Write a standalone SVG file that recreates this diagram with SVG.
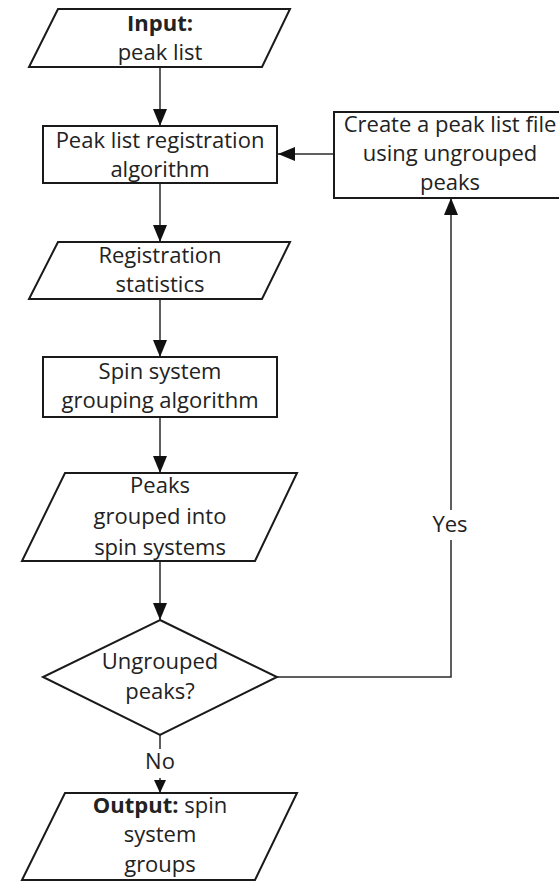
<svg xmlns="http://www.w3.org/2000/svg" width="559" height="881" viewBox="0 0 559 881">
  <style>
    .shape { fill: #ffffff; stroke: #1a1a1a; stroke-width: 2; }
    .edge { fill: none; stroke: #2a2a2a; stroke-width: 1.5; }
    .label { font-family: "Open Sans", "Liberation Sans", sans-serif; font-size: 22px; fill: #222222; text-anchor: middle; }
    .bold { font-weight: bold; }
    .tag { fill: #ffffff; stroke: none; }
  </style>
  <defs>
    <marker id="arrow" markerUnits="userSpaceOnUse" markerWidth="17" markerHeight="14" refX="17" refY="7" orient="auto">
      <path d="M0,0 L17,7 L0,14 z" fill="#111111"/>
    </marker>
    <marker id="arrow-small" markerUnits="userSpaceOnUse" markerWidth="13" markerHeight="12" refX="13" refY="6" orient="auto">
      <path d="M0,0 L13,6 L0,12 z" fill="#111111"/>
    </marker>
  </defs>

  <rect width="559" height="881" fill="#ffffff"/>

  <!-- connectors -->
  <g id="connectors">
    <path class="edge" d="M160,67 V126" marker-end="url(#arrow)"/>
    <path class="edge" d="M160,183 V242" marker-end="url(#arrow)"/>
    <path class="edge" d="M160,299 V357" marker-end="url(#arrow)"/>
    <path class="edge" d="M160,417 V473" marker-end="url(#arrow)"/>
    <path class="edge" d="M160,561 V620" marker-end="url(#arrow)"/>
    <path class="edge" d="M160,735 V793" marker-end="url(#arrow-small)"/>
    <path class="edge" d="M277,677 H451 V198" marker-end="url(#arrow)"/>
    <path class="edge" d="M334,154 H278" marker-end="url(#arrow)"/>
    <!-- branch labels -->
    <rect class="tag" x="430" y="510" width="40" height="30"/>
    <text class="label" x="450" y="532">Yes</text>
    <rect class="tag" x="144" y="749" width="32" height="29"/>
    <text class="label" x="160" y="769">No</text>
  </g>

  <g id="input">
    <polygon class="shape" points="58,9 290,9 262,67 29,67"/>
    <text class="label bold" x="160" y="31">Input:</text>
    <text class="label" x="160" y="60">peak list</text>
  </g>

  <g id="registration">
    <rect class="shape" x="43" y="126" width="234" height="57"/>
    <text class="label" x="160" y="148">Peak list registration</text>
    <text class="label" x="160" y="177">algorithm</text>
  </g>

  <g id="create-file">
    <rect class="shape" x="334" y="112" width="240" height="86"/>
    <text class="label" x="450" y="132">Create a peak list file</text>
    <text class="label" x="450" y="161">using ungrouped</text>
    <text class="label" x="450" y="190">peaks</text>
  </g>

  <g id="statistics">
    <polygon class="shape" points="58,242 290,242 262,299 29,299"/>
    <text class="label" x="160" y="263">Registration</text>
    <text class="label" x="160" y="292">statistics</text>
  </g>

  <g id="grouping">
    <rect class="shape" x="43" y="357" width="234" height="60"/>
    <text class="label" x="160" y="379">Spin system</text>
    <text class="label" x="160" y="408">grouping algorithm</text>
  </g>

  <g id="grouped-peaks">
    <polygon class="shape" points="65,473 297,473 255,561 22,561"/>
    <text class="label" x="160" y="493">Peaks</text>
    <text class="label" x="160" y="524">grouped into</text>
    <text class="label" x="160" y="555">spin systems</text>
  </g>

  <g id="decision">
    <polygon class="shape" points="160,620 277,677 160,735 43,677"/>
    <text class="label" x="160" y="669">Ungrouped</text>
    <text class="label" x="160" y="699">peaks?</text>
  </g>

  <g id="output">
    <polygon class="shape" points="65,793 297,793 255,880 22,880"/>
    <text class="label" x="160" y="813"><tspan class="bold">Output:</tspan> spin</text>
    <text class="label" x="160" y="842">system</text>
    <text class="label" x="160" y="872">groups</text>
  </g>
</svg>
